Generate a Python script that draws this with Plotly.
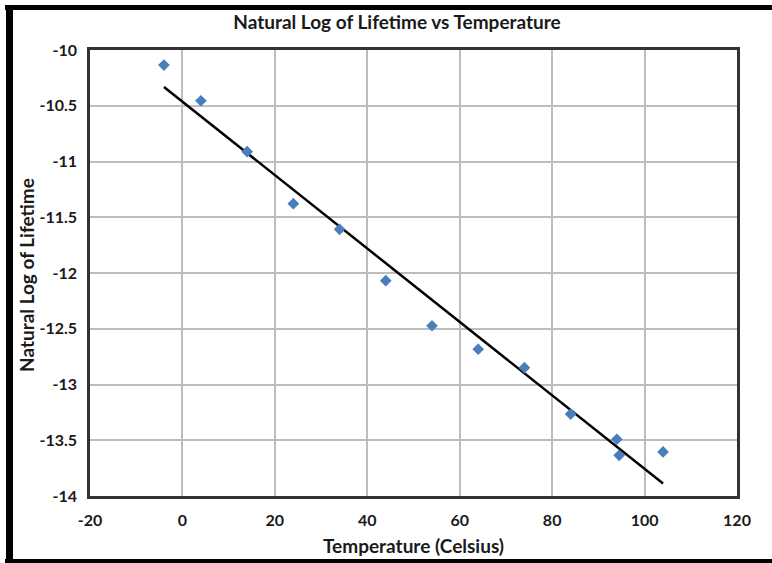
import numpy as np
import plotly.graph_objects as go

temperature = [-4, 4, 14, 24, 34, 44, 54, 64, 74, 84, 94, 94.5, 104]
ln_lifetime = [-10.135, -10.455, -10.912, -11.378, -11.608, -12.069, -12.473,
               -12.684, -12.849, -13.265, -13.491, -13.635, -13.605]
x_ticks = [-20, 0, 20, 40, 60, 80, 100, 120]
y_ticks = [-10, -10.5, -11, -11.5, -12, -12.5, -13, -13.5, -14]

W, H = 772, 563
L, R, T, B = 90, 35, 50, 67
pw, ph = W - L - R, H - T - B

def px(x):
    return (x - L) / pw

def py(y):
    return (H - B - y) / ph

coef = np.polyfit(temperature, ln_lifetime, 1)
fit_x = [min(temperature), max(temperature)]
fit_y = list(np.polyval(coef, fit_x))

FONT = "Lato"
TXT = "#1a1a1a"
fig = go.Figure()
fig.add_trace(go.Scatter(x=fit_x, y=fit_y, mode="lines",
                         line=dict(color="black", width=2.5), showlegend=False))
fig.add_trace(go.Scatter(x=temperature, y=ln_lifetime, mode="markers",
                         marker=dict(symbol="diamond", size=9, color="#4a7ebb"),
                         showlegend=False))

frame = "black"
shapes = [
    dict(type="rect", xref="paper", yref="paper", x0=px(5), x1=px(W + 5), y0=py(10), y1=py(5),
         fillcolor=frame, line=dict(width=0), layer="above"),
    dict(type="rect", xref="paper", yref="paper", x0=px(6), x1=px(13), y0=py(H + 5), y1=py(5),
         fillcolor=frame, line=dict(width=0), layer="above"),
    dict(type="rect", xref="paper", yref="paper", x0=px(5), x1=px(W + 5), y0=py(H + 5), y1=py(559),
         fillcolor=frame, line=dict(width=0), layer="above"),
]

annotations = [
    dict(text="<b>Natural Log of Lifetime</b>", xref="paper", yref="paper",
         x=px(26), y=py(275), xanchor="center", yanchor="middle", textangle=-90,
         showarrow=False, font=dict(size=19, family=FONT, color=TXT)),
    dict(text="<b>Temperature (Celsius)</b>", xref="paper", yref="paper",
         x=px(413), y=py(545), xanchor="center", yanchor="middle",
         showarrow=False, font=dict(size=19, family=FONT, color=TXT)),
]

fig.update_layout(
    width=W, height=H,
    margin=dict(l=L, r=R, t=T, b=B),
    paper_bgcolor="white", plot_bgcolor="white",
    font=dict(family=FONT, color=TXT),
    title=dict(text="<b>Natural Log of Lifetime vs Temperature</b>", x=397 / W, xanchor="center",
               y=1 - 22 / H, yanchor="middle", font=dict(size=19, family=FONT, color=TXT)),
    shapes=shapes,
    annotations=annotations,
    xaxis=dict(range=[-20, 120], tickvals=x_ticks, ticktext=[f"<b>{v}</b>" for v in x_ticks],
               showgrid=True, gridcolor="#bdbdbd", gridwidth=1.5, zeroline=False,
               showline=True, linecolor="#333333", linewidth=2.5, mirror=True,
               ticks="outside", ticklen=8, tickcolor="rgba(0,0,0,0)",
               tickfont=dict(size=16, family=FONT, color=TXT)),
    yaxis=dict(range=[-14, -10], tickvals=y_ticks, ticktext=[f"<b>{v:g}</b>" for v in y_ticks],
               showgrid=True, gridcolor="#bdbdbd", gridwidth=1.5, zeroline=False,
               showline=True, linecolor="#333333", linewidth=2.5, mirror=True,
               ticks="outside", ticklen=7, tickcolor="rgba(0,0,0,0)",
               tickfont=dict(size=16, family=FONT, color=TXT)),
)

fig.write_html("out.html")
